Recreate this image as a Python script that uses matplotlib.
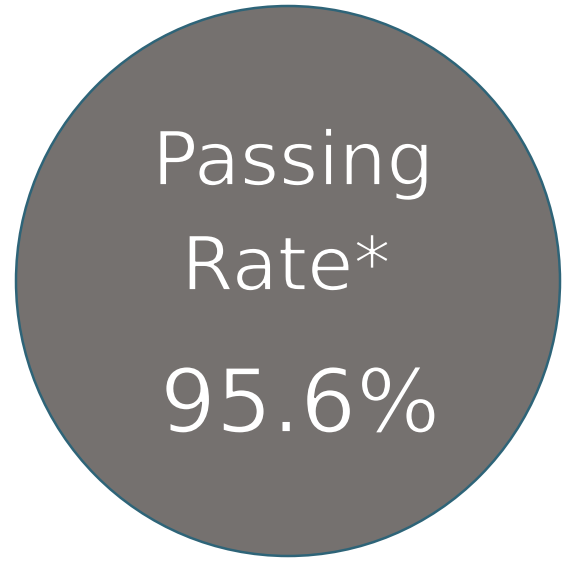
import matplotlib.pyplot as plt
from matplotlib.patches import Ellipse
import matplotlib.patheffects as pe

# Chart content
title_lines = ["Passing", "Rate*"]
passing_rate = 95.6

fill_color = "#75716F"
edge_color = "#2E6478"
font = "DejaVu Sans"

fig = plt.figure(figsize=(5.64, 5.63), dpi=100)
ax = fig.add_axes([0, 0, 1, 1])
ax.set_xlim(0, 564)
ax.set_ylim(563, 0)
ax.axis("off")

# the circle badge
circle = Ellipse((288, 281), 544, 550, facecolor=fill_color,
                 edgecolor=edge_color, linewidth=1.8)
ax.add_patch(circle)

# outline in the fill colour makes the glyph strokes a bit thinner
thin = [pe.Stroke(linewidth=1.3, foreground=fill_color)]

# label lines
ax.text(293, 185, title_lines[0], color="white", fontsize=54,
        family=font, ha="center", va="baseline", path_effects=thin)
ax.text(286, 290, title_lines[1], color="white", fontsize=54,
        family=font, ha="center", va="baseline", path_effects=thin)

# the value
ax.text(300, 432, f"{passing_rate:.1f}%", color="white", fontsize=63.5,
        family=font, ha="center", va="baseline", path_effects=thin)

fig.savefig("out.png", dpi=100)
